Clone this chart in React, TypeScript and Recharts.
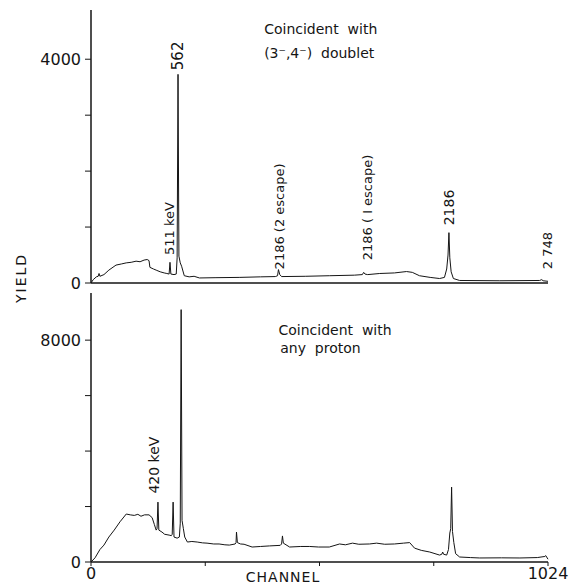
import React from 'react';
import { LineChart, Line, XAxis, YAxis, ReferenceDot } from 'recharts';

// Upper spectrum: coincident with the (3-,4-) doublet
const topChannels = [0, 5, 12, 16, 18, 20, 29, 40, 56, 68, 79, 90, 101, 110, 119, 126, 130, 132, 140, 146, 155, 164, 170, 175, 177, 179, 186, 191, 193, 195, 197, 200, 203, 209, 220, 231, 243, 280, 332, 380, 413, 418, 420, 423, 427, 480, 534, 590, 608, 611, 614, 620, 647, 680, 707, 720, 736, 760, 781, 792, 797, 800, 802, 804, 807, 812, 826, 916, 1005, 1010, 1013, 1024];
const topYield = [0, 60, 110, 120, 170, 120, 150, 230, 320, 340, 360, 370, 390, 380, 410, 420, 400, 280, 250, 230, 200, 180, 170, 160, 370, 160, 150, 160, 450, 3730, 480, 360, 300, 130, 110, 120, 90, 95, 100, 110, 115, 130, 240, 150, 115, 120, 130, 140, 150, 190, 160, 150, 170, 180, 205, 190, 130, 100, 80, 100, 250, 500, 900, 450, 200, 80, 45, 40, 45, 60, 40, 30];

// Lower spectrum: coincident with any proton
const bottomChannels = [0, 9, 20, 29, 40, 52, 65, 79, 88, 97, 105, 112, 120, 130, 137, 142, 146, 148, 150, 152, 159, 165, 175, 180, 182, 184, 186, 193, 198, 200, 202, 204, 207, 210, 216, 226, 238, 250, 260, 275, 287, 300, 310, 323, 325, 326, 328, 335, 343, 361, 380, 400, 424, 427, 429, 431, 437, 445, 470, 490, 510, 534, 557, 570, 586, 600, 624, 640, 658, 680, 700, 714, 725, 740, 759, 781, 786, 788, 790, 797, 801, 804, 806, 808, 810, 813, 817, 826, 850, 871, 920, 961, 1000, 1017, 1019, 1024];
const bottomYield = [0, 150, 450, 610, 900, 1150, 1450, 1730, 1700, 1680, 1720, 1650, 1700, 1700, 1600, 1350, 1150, 1200, 2160, 1150, 1080, 1000, 970, 950, 1000, 2160, 900, 860, 900, 1400, 9100, 1500, 1200, 900, 720, 740, 720, 690, 680, 650, 650, 620, 610, 650, 700, 1080, 700, 650, 640, 540, 560, 580, 600, 650, 940, 680, 620, 540, 560, 560, 540, 540, 650, 620, 680, 640, 650, 680, 640, 650, 680, 700, 500, 420, 360, 250, 280, 360, 280, 250, 450, 1045, 1200, 2700, 1100, 700, 300, 180, 160, 145, 150, 145, 160, 200, 230, 100];

const topTicks = [0, 1000, 2000, 3000, 4000];
const bottomTicks = [0, 2000, 4000, 6000, 8000];
const channelTicks = [0, 256, 512, 768, 1024];

// peak labels (vertical text), centred at [channel, yield]
const topPeakLabels = ['562', '511 keV', '2186 (2 escape)', '2186 ( I escape)', '2186', '2 748'];
const topPeakAt = [[195, 4060], [177, 975], [422, 1190], [620, 1350], [802, 1350], [1022, 580]];
const bottomPeakLabels = ['420 keV'];
const bottomPeakAt = [[141, 3495]];

const topTitle = ['Coincident  with', '(3\u207B,4\u207B)  doublet'];
const topTitleAt = [[388, 4535], [388, 4105]];
const bottomTitle = ['Coincident  with', 'any  proton'];
const bottomTitleAt = [[420, 8360], [424, 7710]];

const topData = topChannels.map((ch, i) => ({ ch, y: topYield[i] }));
const bottomData = bottomChannels.map((ch, i) => ({ ch, y: bottomYield[i] }));

const INK = '#151515';
const FONT = '"DejaVu Sans", sans-serif';

const vertLabel = (text: string, size: number) => (props: any) => {
  const vb = props.viewBox || {};
  const x = vb.x + (vb.width || 0) / 2;
  const y = vb.y + (vb.height || 0) / 2;
  return (
    <text x={x} y={y} transform={`rotate(-90 ${x} ${y})`} textAnchor="middle" dominantBaseline="central"
      fontSize={size} fill={INK} fontFamily={FONT}>{text}</text>
  );
};

const flatLabel = (text: string) => (props: any) => {
  const vb = props.viewBox || {};
  return (
    <text x={vb.x} y={vb.y} textAnchor="start" dominantBaseline="central" fontSize={14}
      fill={INK} fontFamily={FONT} style={{ whiteSpace: 'pre' }}>{text}</text>
  );
};

const peakSize = (t: string) => (t === '562' ? 15 : t === '2186' ? 14 : 13);

export default function App() {
  return (
    <div style={styles.page}>
      <div style={{ position: 'absolute', left: 0, top: 0 }}>
        <LineChart width={575} height={300} data={topData} margin={{ top: 10, right: 27, left: 0, bottom: 0 }}>
          <XAxis dataKey="ch" type="number" domain={[0, 1024]} ticks={channelTicks} height={17}
            tick={false} tickLine={false} axisLine={{ stroke: INK, strokeWidth: 1.5 }} />
          <YAxis type="number" domain={[0, 4880]} ticks={topTicks} interval={0} width={91} tickSize={6} tickMargin={4}
            tickFormatter={(v: number) => (v === 0 || v === 4000 ? String(v) : '')}
            tick={{ fontSize: 16, fill: INK, fontFamily: FONT }}
            tickLine={{ stroke: INK }} axisLine={{ stroke: INK, strokeWidth: 1.5 }} />
          <Line type="linear" dataKey="y" stroke={INK} strokeWidth={1} dot={false} activeDot={false} isAnimationActive={false} />
          {topPeakLabels.map((t, i) => (
            <ReferenceDot key={t + i} x={topPeakAt[i][0]} y={topPeakAt[i][1]} r={0} stroke="none" fill="none"
              label={{ content: vertLabel(t, peakSize(t)) }} />
          ))}
          {topTitle.map((t, i) => (
            <ReferenceDot key={t} x={topTitleAt[i][0]} y={topTitleAt[i][1]} r={0} stroke="none" fill="none"
              label={{ content: flatLabel(t) }} />
          ))}
        </LineChart>
      </div>
      <div style={{ position: 'absolute', left: 0, top: 290 }}>
        <LineChart width={575} height={295} data={bottomData} margin={{ top: 3, right: 27, left: 0, bottom: 0 }}>
          <XAxis dataKey="ch" type="number" domain={[0, 1024]} ticks={channelTicks} interval={0} height={23}
            tickSize={4} tickMargin={2}
            tickFormatter={(v: number) => (v === 0 || v === 1024 ? String(v) : '')}
            tick={{ fontSize: 16, fill: INK, fontFamily: FONT }}
            tickLine={{ stroke: INK }} axisLine={{ stroke: INK, strokeWidth: 1.5 }} />
          <YAxis type="number" domain={[0, 9700]} ticks={bottomTicks} interval={0} width={91} tickSize={6} tickMargin={4}
            tickFormatter={(v: number) => (v === 0 || v === 8000 ? String(v) : '')}
            tick={{ fontSize: 16, fill: INK, fontFamily: FONT }}
            tickLine={{ stroke: INK }} axisLine={{ stroke: INK, strokeWidth: 1.5 }} />
          <Line type="linear" dataKey="y" stroke={INK} strokeWidth={1} dot={false} activeDot={false} isAnimationActive={false} />
          {bottomPeakLabels.map((t, i) => (
            <ReferenceDot key={t} x={bottomPeakAt[i][0]} y={bottomPeakAt[i][1]} r={0} stroke="none" fill="none"
              label={{ content: vertLabel(t, 14) }} />
          ))}
          {bottomTitle.map((t, i) => (
            <ReferenceDot key={t} x={bottomTitleAt[i][0]} y={bottomTitleAt[i][1]} r={0} stroke="none" fill="none"
              label={{ content: flatLabel(t) }} />
          ))}
        </LineChart>
      </div>
      <div style={styles.yTitle}>YIELD</div>
      <div style={styles.xTitle}>CHANNEL</div>
    </div>
  );
}

const styles = {
  page: {
    position: 'absolute',
    left: 0,
    top: 0,
    width: 575,
    height: 585,
    background: '#ffffff',
    fontFamily: FONT,
    color: INK,
  } as React.CSSProperties,
  yTitle: {
    position: 'absolute',
    left: 21,
    top: 278,
    transform: 'translate(-50%, -50%) rotate(-90deg)',
    fontSize: 14,
    letterSpacing: '2px',
    lineHeight: '14px',
    whiteSpace: 'nowrap',
  } as React.CSSProperties,
  xTitle: {
    position: 'absolute',
    left: 283,
    top: 577,
    transform: 'translate(-50%, -50%)',
    fontSize: 14,
    letterSpacing: '1px',
    lineHeight: '14px',
    whiteSpace: 'nowrap',
  } as React.CSSProperties,
};
